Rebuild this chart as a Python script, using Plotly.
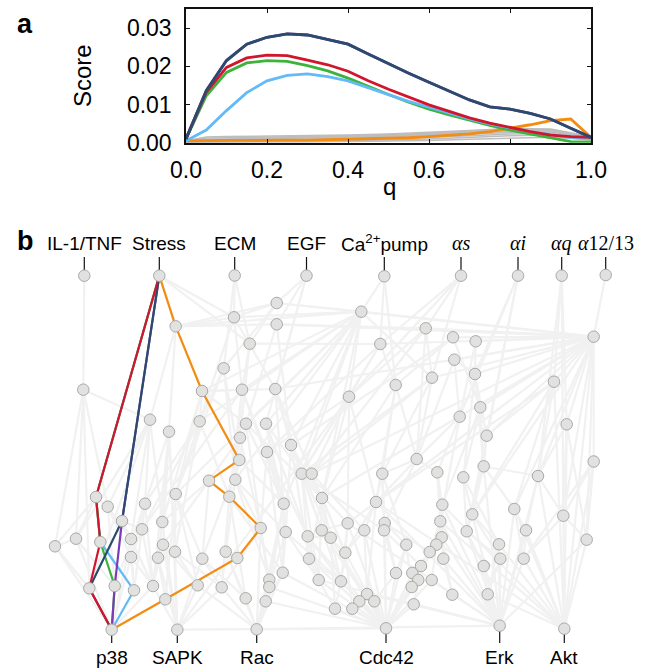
import plotly.graph_objects as go

# ---------------- Panel a data ----------------
q = [0.0, 0.05, 0.1, 0.15, 0.2, 0.25, 0.3, 0.35, 0.4, 0.45, 0.5,
     0.55, 0.6, 0.65, 0.7, 0.75, 0.8, 0.85, 0.9, 0.95, 1.0]
score_navy = [0.0010, 0.0136, 0.0215, 0.0258, 0.0276, 0.0285, 0.0282, 0.0271, 0.0258, 0.0232, 0.0206,
              0.0182, 0.0158, 0.0136, 0.0112, 0.0094, 0.0088, 0.0077, 0.0062, 0.0038, 0.0014]
score_purple = [0.0010, 0.0136, 0.0215, 0.0258, 0.0276, 0.0285, 0.0282, 0.0271, 0.0258, 0.0232, 0.0206,
                0.0182, 0.0158, 0.0136, 0.0112, 0.0094, 0.0088, 0.0077, 0.0062, 0.0038, 0.0014]
score_red = [0.0010, 0.0132, 0.0197, 0.0222, 0.0229, 0.0228, 0.0216, 0.0204, 0.0187, 0.0162, 0.0140,
             0.0119, 0.0099, 0.0082, 0.0065, 0.0051, 0.0039, 0.0029, 0.0020, 0.0016, 0.0014]
score_green = [0.0010, 0.0123, 0.0184, 0.0209, 0.0215, 0.0213, 0.0202, 0.0188, 0.0169, 0.0147, 0.0126,
               0.0106, 0.0088, 0.0073, 0.0058, 0.0045, 0.0033, 0.0023, 0.0012, 0.0003, 0.0002]
score_lightblue = [0.0005, 0.0033, 0.0084, 0.0131, 0.0162, 0.0176, 0.0180, 0.0173, 0.0162, 0.0145, 0.0126,
                   0.0108, 0.0092, 0.0078, 0.0062, 0.0049, 0.0038, 0.0029, 0.0021, 0.0014, 0.0011]
score_orange = [0.0005, 0.0006, 0.0006, 0.0006, 0.0007, 0.0007, 0.0007, 0.0008, 0.0008, 0.0009, 0.0011,
                0.0013, 0.0016, 0.0019, 0.0023, 0.0029, 0.0038, 0.0047, 0.0058, 0.0062, 0.0014]

q_gray = [0.0, 0.05, 0.1, 0.2, 0.3, 0.4, 0.5, 0.6, 0.7, 0.8, 0.9, 1.0]
gray_1 = [0.0005, 0.0015, 0.0016, 0.0017, 0.0018, 0.0020, 0.0023, 0.0027, 0.0032, 0.0037, 0.0036, 0.0016]
gray_2 = [0.0004, 0.0012, 0.0013, 0.0014, 0.0016, 0.0018, 0.0021, 0.0025, 0.0030, 0.0035, 0.0034, 0.0015]
gray_3 = [0.0004, 0.0009, 0.0010, 0.0012, 0.0014, 0.0016, 0.0019, 0.0023, 0.0028, 0.0033, 0.0033, 0.0014]
gray_4 = [0.0003, 0.0007, 0.0008, 0.0010, 0.0012, 0.0014, 0.0017, 0.0021, 0.0025, 0.0030, 0.0031, 0.0014]
gray_5 = [0.0003, 0.0005, 0.0006, 0.0007, 0.0009, 0.0011, 0.0014, 0.0018, 0.0022, 0.0027, 0.0028, 0.0013]
gray_6 = [0.0002, 0.0003, 0.0004, 0.0005, 0.0006, 0.0008, 0.0011, 0.0014, 0.0018, 0.0023, 0.0025, 0.0012]
gray_7 = [0.0002, 0.0002, 0.0002, 0.0003, 0.0004, 0.0005, 0.0007, 0.0010, 0.0014, 0.0018, 0.0020, 0.0010]
gray_8 = [0.0001, 0.0001, 0.0001, 0.0001, 0.0002, 0.0003, 0.0004, 0.0006, 0.0009, 0.0012, 0.0014, 0.0008]
gray_series = [gray_1, gray_2, gray_3, gray_4, gray_5, gray_6, gray_7, gray_8]

y_ticks = [0.0, 0.01, 0.02, 0.03]
y_tick_labels = ["0.00", "0.01", "0.02", "0.03"]
x_ticks = [0.0, 0.2, 0.4, 0.6, 0.8, 1.0]
x_tick_labels = ["0.0", "0.2", "0.4", "0.6", "0.8", "1.0"]

# ---------------- Panel b data (node layout) ----------------
node_x = [84.3, 159.3, 234.7, 306.5, 384.3, 461.0, 518.0, 561.7, 605.7,
          111.7, 177.3, 256.7, 386.0, 499.7, 564.3,
          276.7, 234.0, 276.7, 175.7, 249.7, 223.7, 83.3, 202.0, 242.0, 275.3,
          150.0, 199.7, 169.0, 246.0, 266.0, 240.0, 291.0, 267.0, 239.3,
          361.3, 425.7, 380.3, 453.0, 475.7, 593.7, 454.3, 475.0, 432.0, 395.7,
          349.0, 554.0, 480.3, 459.7, 566.7, 486.7, 416.7, 593.7,
          209.0, 235.3, 301.7, 311.7, 96.0, 107.7, 145.0, 175.7, 229.3, 283.7, 322.0,
          122.0, 162.3, 142.0, 260.7, 285.7, 307.7, 321.7, 55.0, 76.0, 100.3, 131.0,
          163.0, 175.0, 131.0, 158.0, 202.3, 225.7, 237.3, 309.0, 282.7, 269.3, 269.3,
          318.7, 89.3, 114.7, 134.0, 153.0, 197.7, 221.7, 165.3, 245.7, 265.7,
          483.7, 437.3, 463.3, 538.0, 382.3, 376.0, 442.3, 472.3, 514.3, 563.3,
          347.7, 384.7, 384.0, 364.3, 330.7, 440.3, 466.7, 526.0, 586.7, 441.7,
          436.3, 429.7, 406.3, 345.3, 443.3, 499.0, 500.3, 523.7, 483.7, 421.0,
          412.3, 396.0, 418.3, 431.7, 411.7, 341.0, 367.0, 359.3, 374.3, 335.0,
          352.3, 413.7, 452.3, 487.7]
node_y = [275.7, 275.7, 275.5, 275.7, 276.3, 275.7, 275.7, 275.7, 275.0,
          629.7, 629.7, 629.3, 628.3, 625.7, 628.7,
          303.0, 317.3, 324.3, 326.3, 343.7, 368.3, 389.7, 391.0, 389.7, 389.0,
          419.7, 421.3, 431.7, 423.7, 423.7, 437.7, 445.0, 452.0, 460.0,
          311.7, 328.3, 344.0, 337.3, 341.3, 336.7, 359.7, 374.0, 377.7, 385.0,
          396.7, 381.7, 407.3, 416.7, 424.3, 435.7, 459.0, 461.5,
          480.7, 479.7, 473.7, 473.7, 497.0, 506.7, 503.7, 494.0, 496.7, 503.7, 498.0,
          521.0, 522.0, 529.3, 528.0, 532.0, 536.3, 530.3, 546.3, 538.7, 542.0, 539.0,
          544.7, 551.7, 557.0, 557.7, 558.7, 551.7, 558.0, 558.7, 572.7, 579.7, 587.0,
          580.0, 588.3, 586.0, 590.3, 586.0, 585.3, 587.3, 599.3, 598.3, 601.3,
          466.3, 472.3, 477.3, 476.0, 473.7, 502.0, 504.7, 514.3, 509.0, 515.7,
          523.3, 523.0, 530.3, 530.3, 537.7, 521.3, 531.3, 530.3, 539.7, 537.3,
          544.7, 552.0, 544.7, 552.7, 558.7, 544.3, 558.7, 558.7, 566.0, 566.0,
          573.0, 573.0, 580.0, 580.0, 587.0, 581.3, 594.0, 601.3, 601.3, 608.7,
          608.7, 604.3, 594.7, 594.3]

top_labels = ["IL-1/TNF", "Stress", "ECM", "EGF", "Ca<sup>2+</sup>pump",
              "<i>αs</i>", "<i>αi</i>", "<i>αq</i>", "<i>α</i>12/13"]
top_label_nodes = [0, 1, 2, 3, 4, 5, 6, 7, 8]
bottom_labels = ["p38", "SAPK", "Rac", "Cdc42", "Erk", "Akt"]
bottom_label_nodes = [9, 10, 11, 12, 13, 14]

edges = [
    (0, 21), (21, 70), (21, 71), (21, 25), (21, 57), (21, 86),
    (1, 18), (1, 16), (1, 19), (18, 16), (18, 17), (18, 15), (18, 34), (18, 25), (18, 27),
    (2, 16), (2, 20), (2, 19), (16, 15), (16, 34), (16, 24), (16, 23), (16, 26),
    (3, 15), (3, 17), (3, 24), (3, 29), (15, 34), (15, 39), (15, 19), (15, 20),
    (17, 39), (17, 35), (17, 28), (17, 31), (19, 23), (19, 30), (19, 36),
    (20, 26), (20, 33), (20, 59), (20, 53),
    (4, 34), (4, 43), (4, 36), (5, 35), (5, 44), (5, 36), (5, 42),
    (6, 41), (6, 47), (6, 49), (6, 102), (7, 45), (7, 48), (7, 98), (7, 104), (8, 39),
    (34, 22), (34, 23), (34, 28), (34, 29), (34, 31), (34, 44), (34, 42), (34, 53),
    (34, 62), (34, 61), (34, 26), (34, 54), (34, 39), (34, 59),
    (35, 39), (35, 42), (35, 44), (35, 50), (35, 55),
    (36, 43), (36, 44), (36, 32), (36, 54),
    (37, 39), (37, 46), (37, 43), (37, 31), (38, 39), (38, 41), (38, 47),
    (39, 14), (39, 51), (39, 48), (39, 45), (39, 104), (39, 113), (39, 40), (39, 41),
    (39, 42), (39, 46), (39, 98), (39, 24), (39, 36), (39, 49), (39, 102), (39, 103),
    (39, 62), (39, 55), (39, 100),
    (40, 41), (40, 50), (40, 47), (41, 49), (41, 95), (41, 97),
    (42, 50), (42, 99), (42, 55), (42, 54), (43, 50), (43, 62), (43, 99), (43, 100),
    (44, 54), (44, 55), (44, 62), (44, 100), (44, 105), (44, 32), (44, 10),
    (45, 98), (45, 103), (45, 14), (45, 102), (45, 49), (45, 100),
    (46, 95), (46, 101), (46, 97), (47, 96), (47, 50), (47, 110),
    (48, 104), (48, 113), (48, 14), (48, 98), (49, 95), (49, 102), (49, 111),
    (50, 99), (50, 106), (50, 100), (50, 96), (51, 14), (51, 113), (51, 104), (51, 122),
    (22, 24), (22, 28), (22, 23), (22, 26), (22, 59), (22, 64),
    (23, 32), (23, 53), (23, 60), (23, 61), (23, 65),
    (24, 31), (24, 54), (24, 55), (24, 67),
    (25, 57), (25, 58), (25, 64), (25, 71), (25, 73), (25, 86),
    (26, 59), (26, 58), (26, 60), (26, 65), (26, 75),
    (27, 58), (27, 64), (27, 74), (27, 75), (27, 10), (27, 89),
    (28, 53), (28, 61), (28, 62), (28, 66), (29, 54), (29, 61), (29, 67), (29, 68),
    (30, 52), (30, 60), (30, 66), (30, 79), (31, 62), (31, 69), (31, 67), (31, 81), (31, 109),
    (32, 66), (32, 61), (32, 68), (32, 82), (33, 53), (33, 61), (33, 78),
    (52, 78), (52, 64), (52, 74), (53, 66), (53, 79), (53, 83), (53, 67),
    (54, 69), (54, 81), (54, 85), (54, 105), (54, 107), (55, 62), (55, 109), (55, 108), (55, 118),
    (56, 70), (56, 71), (56, 57), (57, 87), (57, 73), (57, 76),
    (58, 87), (58, 89), (58, 76), (58, 65), (59, 90), (59, 75), (59, 78), (59, 92),
    (60, 91), (60, 93), (60, 82), (61, 82), (61, 84), (61, 11), (61, 94),
    (62, 81), (62, 85), (62, 109), (62, 118), (63, 73), (63, 65), (63, 89),
    (64, 77), (64, 89), (64, 10), (65, 76), (65, 88), (65, 89),
    (66, 83), (66, 84), (66, 91), (66, 11), (67, 82), (67, 85), (67, 11), (67, 130),
    (68, 85), (68, 109), (68, 130), (68, 12), (69, 118), (69, 105), (69, 130), (69, 12),
    (70, 86), (70, 9), (70, 71), (71, 87), (71, 9), (73, 88), (73, 89), (73, 9),
    (74, 89), (74, 90), (74, 10), (75, 90), (75, 91), (75, 10), (76, 88), (76, 9), (76, 89),
    (77, 89), (77, 10), (77, 92), (78, 91), (78, 10), (78, 93), (79, 93), (79, 91), (79, 11),
    (81, 85), (81, 12), (81, 130), (82, 11), (82, 94), (82, 12), (83, 11), (83, 94),
    (84, 11), (84, 12), (85, 12), (85, 134), (85, 13), (89, 9), (89, 10), (90, 10), (90, 11),
    (91, 11), (91, 10), (93, 11), (94, 11), (94, 12),
    (95, 98), (95, 103), (95, 102), (95, 13), (96, 101), (96, 110), (96, 114),
    (97, 102), (97, 111), (97, 120), (98, 104), (98, 112), (98, 14), (98, 13),
    (99, 106), (99, 107), (99, 100), (99, 117), (100, 105), (100, 108), (100, 118), (100, 131),
    (101, 114), (101, 115), (101, 119), (101, 13), (102, 111), (102, 120), (102, 121), (102, 13),
    (103, 112), (103, 122), (103, 14), (103, 13), (104, 113), (104, 14), (104, 122),
    (105, 118), (105, 130), (105, 12), (106, 117), (106, 116), (106, 126), (106, 12),
    (107, 126), (107, 124), (107, 12), (108, 118), (108, 131), (108, 12),
    (109, 130), (109, 134), (109, 12), (110, 115), (110, 116), (110, 13),
    (111, 121), (111, 123), (111, 13), (112, 122), (112, 14), (112, 13), (113, 14), (113, 13),
    (114, 119), (114, 137), (114, 13), (115, 124), (115, 128), (115, 12),
    (116, 125), (116, 127), (116, 12), (117, 126), (117, 129), (117, 12),
    (118, 130), (118, 135), (118, 12), (119, 137), (119, 13), (120, 138), (120, 13),
    (121, 13), (121, 138), (122, 14), (122, 13), (123, 13), (123, 138),
    (124, 127), (124, 12), (125, 129), (125, 12), (126, 12), (126, 133), (127, 136), (127, 12),
    (128, 12), (128, 137), (129, 12), (130, 134), (130, 12), (131, 12), (131, 133),
    (132, 12), (133, 12), (134, 12), (135, 12), (136, 12), (136, 13), (137, 13),
    (138, 13), (138, 14), (14, 100), (14, 110), (14, 120), (14, 101),
    (13, 100), (13, 105), (13, 131), (10, 12), (11, 13),
]

path_orange = [1, 18, 22, 33, 52, 60, 66, 80, 92, 9]
path_lightblue = [1, 56, 72, 88, 9]
path_green = [1, 56, 72, 87, 9]
path_purple = [1, 63, 87, 9]
path_navy = [1, 63, 86, 9]
path_red = [1, 56, 72, 86, 9]

C_NAVY = "#2b4b6c"
C_PURPLE = "#7b3bb5"
C_RED = "#d2152d"
C_GREEN = "#3cb43a"
C_LBLUE = "#63baf8"
C_ORANGE = "#f28c12"
C_GRAY = "#bdbdbd"

FONT = "Liberation Sans, Arial, Helvetica, sans-serif"
SERIF = "Liberation Serif, DejaVu Serif, serif"

W, H = 645, 670
TOP_LABEL_Y = 243      # label centre line (pixels)
TOP_TICK_END = 257
BOTTOM_LABEL_Y = 657
BOTTOM_TICK_END = 643

fig = go.Figure()

# ---------- Panel a ----------
for g in gray_series:
    fig.add_trace(go.Scatter(x=q_gray, y=g, mode="lines", line=dict(color=C_GRAY, width=1.5),
                             xaxis="x", yaxis="y", showlegend=False, hoverinfo="skip"))
for ys, col in [(score_orange, C_ORANGE), (score_green, C_GREEN), (score_lightblue, C_LBLUE),
                (score_red, C_RED), (score_purple, C_PURPLE), (score_navy, C_NAVY)]:
    fig.add_trace(go.Scatter(x=q, y=ys, mode="lines", line=dict(color=col, width=2.8),
                             xaxis="x", yaxis="y", showlegend=False, cliponaxis=True))

# ---------- Panel b ----------
ex, ey = [], []
for a, b in edges:
    ex += [node_x[a], node_x[b], None]
    ey += [node_y[a], node_y[b], None]
fig.add_trace(go.Scatter(x=ex, y=ey, mode="lines", line=dict(color="#f1f1f1", width=2.2),
                         xaxis="x2", yaxis="y2", showlegend=False, hoverinfo="skip"))

for path, col in [(path_orange, C_ORANGE), (path_lightblue, C_LBLUE), (path_green, C_GREEN),
                  (path_purple, C_PURPLE), (path_navy, C_NAVY), (path_red, C_RED)]:
    fig.add_trace(go.Scatter(x=[node_x[i] for i in path], y=[node_y[i] for i in path], mode="lines",
                             line=dict(color=col, width=2.2), xaxis="x2", yaxis="y2", showlegend=False))

# label tick lines
tx, ty = [], []
for i in top_label_nodes:
    tx += [node_x[i], node_x[i], None]
    ty += [node_y[i] - 4, TOP_TICK_END, None]
for i in bottom_label_nodes:
    tx += [node_x[i], node_x[i], None]
    ty += [node_y[i] + 4, BOTTOM_TICK_END, None]
fig.add_trace(go.Scatter(x=tx, y=ty, mode="lines", line=dict(color="#111111", width=1.2),
                         xaxis="x2", yaxis="y2", showlegend=False, hoverinfo="skip"))

fig.add_trace(go.Scatter(x=node_x, y=node_y, mode="markers",
                         marker=dict(size=11.5, color="#e1e1df", line=dict(color="#a9a9a9", width=1)),
                         xaxis="x2", yaxis="y2", showlegend=False))

annotations = []
for lab, i in zip(top_labels, top_label_nodes):
    is_math = "α" in lab
    annotations.append(dict(x=node_x[i], y=TOP_LABEL_Y, xref="x2", yref="y2", text=lab,
                            showarrow=False, xanchor="center", yanchor="middle",
                            font=dict(family=SERIF if is_math else FONT, size=20 if is_math else 19,
                                      color="#000")))
for lab, i in zip(bottom_labels, bottom_label_nodes):
    annotations.append(dict(x=node_x[i], y=BOTTOM_LABEL_Y, xref="x2", yref="y2", text=lab,
                            showarrow=False, xanchor="center", yanchor="middle",
                            font=dict(family=FONT, size=19, color="#000")))

annotations += [
    dict(x=25 / W, y=1 - 24 / H, xref="paper", yref="paper", text="<b>a</b>", showarrow=False,
         xanchor="center", yanchor="middle", font=dict(family=FONT, size=27, color="#000")),
    dict(x=25 / W, y=1 - 241 / H, xref="paper", yref="paper", text="<b>b</b>", showarrow=False,
         xanchor="center", yanchor="middle", font=dict(family=FONT, size=27, color="#000")),
    dict(x=82 / W, y=1 - 76 / H, xref="paper", yref="paper", text="Score", showarrow=False,
         textangle=-90, xanchor="center", yanchor="middle", font=dict(family=FONT, size=24, color="#000")),
    dict(x=389 / W, y=1 - 186 / H, xref="paper", yref="paper", text="q", showarrow=False,
         xanchor="center", yanchor="middle", font=dict(family=FONT, size=24, color="#000")),
]

axis_a = dict(showline=True, linecolor="#111", linewidth=1.5, mirror="ticks", ticks="inside",
              ticklen=4, tickwidth=1.2, tickcolor="#111", showgrid=False, zeroline=False,
              automargin=False, tickfont=dict(family=FONT, size=23, color="#000"))

fig.update_layout(
    template="none",
    width=W, height=H, margin=dict(l=0, r=0, t=0, b=0, pad=0), autosize=False,
    paper_bgcolor="white", plot_bgcolor="white",
    xaxis=dict(axis_a, domain=[186 / W, 591 / W], range=[0, 1.0], tickvals=x_ticks,
               ticktext=x_tick_labels, anchor="y", ticklabelstandoff=6),
    yaxis=dict(axis_a, domain=[1 - 142.7 / H, 1 - 9 / H], range=[0, 0.035], tickvals=y_ticks,
               ticktext=y_tick_labels, anchor="x", ticklabelstandoff=8),
    xaxis2=dict(domain=[0, 1], range=[0, W], visible=False, anchor="y2", automargin=False),
    yaxis2=dict(domain=[0, 440 / H], range=[H, 230], visible=False, anchor="x2", automargin=False),
    annotations=annotations,
)

fig.write_html("out.html", config={"displayModeBar": False},
               post_script="document.body.style.margin='0px';")
